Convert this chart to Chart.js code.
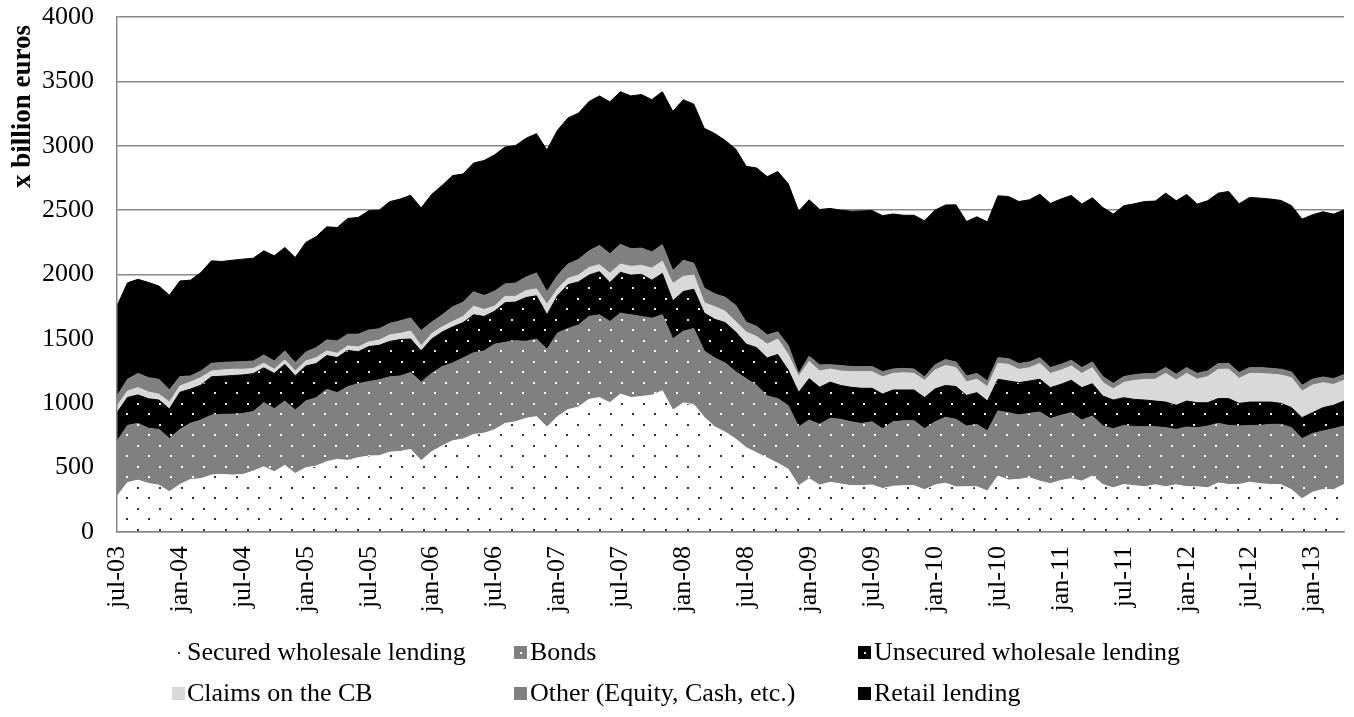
<!DOCTYPE html>
<html>
<head>
<meta charset="utf-8">
<script src="https://cdn.jsdelivr.net/npm/chart.js@4.4.1/dist/chart.umd.min.js"></script>
<style>
  html, body { margin: 0; padding: 0; background: #fff; }
  #wrap { position: relative; width: 1354px; height: 717px; }
  #legend .item {
    position: absolute;
    font: 26px 'Liberation Serif', 'Times New Roman', serif;
    color: #000;
    line-height: 30px;
    height: 30px;
    white-space: nowrap;
  }
  #legend .item canvas { position: absolute; left: 0; top: 9px; }
</style>
</head>
<body>
<div id="wrap">
  <canvas id="chart" width="1354" height="717"></canvas>
  <div id="legend"></div>
</div>
<script>
// monthly categories, jul-03 .. apr-13
const monthNames = ['jan', 'feb', 'mar', 'apr', 'may', 'jun', 'jul', 'aug', 'sep', 'oct', 'nov', 'dec'];
const months = [];
for (let k = 0; k < 118; k++) {
  const m = (6 + k) % 12;
  const y = 3 + Math.floor((6 + k) / 12);
  months.push(monthNames[m] + '-' + String(y).padStart(2, '0'));
}

// x billion euros
const secured = [
  278, 383, 403, 377, 364, 313, 369, 408, 414, 442,
  447, 442, 447, 473, 507, 468, 517, 455, 499, 512,
  546, 564, 556, 577, 590, 592, 620, 625, 642, 553,
  623, 668, 708, 722, 757, 767, 795, 843, 856, 883,
  896, 816, 896, 950, 971, 1030, 1044, 1004, 1071, 1044,
  1052, 1062, 1097, 945, 1003, 990, 891, 816, 775, 722,
  655, 615, 575, 534, 488, 360, 414, 365, 386, 373,
  360, 360, 365, 337, 355, 360, 360, 328, 365, 379,
  350, 351, 351, 318, 434, 403, 408, 421, 395, 375,
  400, 414, 395, 434, 369, 343, 369, 360, 351, 367,
  351, 367, 351, 351, 343, 380, 369, 369, 387, 375,
  369, 367, 328, 258, 309, 330, 328, 369
];
const bonds = [
  428, 445, 441, 428, 433, 414, 428, 436, 455, 466,
  467, 473, 474, 462, 498, 490, 500, 492, 518, 531,
  562, 518, 573, 575, 578, 590, 585, 587, 597, 611,
  609, 617, 604, 630, 635, 639, 664, 630, 630, 598,
  603, 603, 649, 630, 636, 644, 643, 630, 629, 643,
  622, 598, 591, 554, 557, 590, 515, 536, 537, 523,
  536, 523, 482, 502, 494, 456, 455, 472, 497, 502,
  496, 483, 491, 465, 501, 504, 504, 474, 491, 512,
  525, 472, 485, 466, 506, 524, 501, 501, 537, 506,
  506, 513, 474, 467, 454, 459, 459, 458, 467, 451,
  459, 430, 464, 459, 480, 464, 459, 454, 441, 453,
  467, 469, 482, 467, 457, 454, 474, 454
];
const unsecured = [
  221, 217, 221, 230, 228, 228, 288, 266, 271, 297,
  296, 300, 299, 295, 270, 274, 285, 265, 272, 265,
  262, 273, 281, 248, 272, 268, 275, 283, 260, 242,
  267, 268, 281, 274, 295, 268, 255, 308, 300, 340,
  335, 268, 289, 341, 335, 321, 335, 303, 317, 308,
  327, 296, 320, 296, 308, 305, 294, 300, 314, 308,
  268, 294, 295, 343, 276, 268, 322, 287, 281, 263,
  268, 273, 260, 269, 247, 239, 239, 242, 255, 247,
  255, 238, 246, 233, 246, 246, 251, 251, 254, 240,
  241, 251, 252, 251, 233, 223, 215, 212, 207, 199,
  199, 187, 202, 194, 181, 192, 208, 176, 181, 181,
  173, 163, 156, 163, 161, 182, 182, 194
];
const claimsCB = [
  53, 50, 56, 52, 44, 55, 49, 55, 59, 45,
  48, 49, 44, 39, 35, 32, 34, 38, 39, 46,
  36, 33, 35, 37, 36, 40, 51, 48, 62, 40,
  41, 40, 41, 48, 67, 54, 40, 49, 44, 54,
  54, 81, 54, 48, 53, 59, 54, 72, 65, 68,
  70, 93, 95, 135, 117, 110, 81, 97, 88, 81,
  94, 86, 107, 120, 121, 124, 134, 126, 102, 112,
  121, 129, 129, 134, 129, 134, 129, 134, 147, 155,
  147, 106, 105, 111, 123, 129, 103, 103, 123, 111,
  110, 111, 111, 124, 106, 85, 119, 147, 160, 170,
  223, 196, 215, 183, 202, 227, 229, 194, 223, 223,
  217, 220, 232, 206, 214, 193, 162, 161
];
const other = [
  76, 91, 111, 112, 117, 93, 73, 47, 51, 60,
  58, 57, 59, 59, 65, 64, 70, 66, 70, 78,
  86, 96, 91, 99, 93, 88, 89, 97, 102, 118,
  90, 93, 115, 110, 112, 109, 116, 97, 103, 105,
  124, 98, 104, 112, 122, 129, 150, 152, 152, 137,
  134, 126, 129, 100, 125, 93, 113, 101, 109, 126,
  77, 79, 72, 56, 71, 22, 41, 48, 34, 43,
  40, 40, 40, 40, 34, 34, 34, 27, 41, 46,
  43, 45, 45, 45, 45, 45, 45, 45, 45, 45,
  45, 45, 45, 45, 45, 45, 45, 45, 45, 45,
  45, 45, 45, 45, 45, 45, 45, 45, 45, 45,
  45, 45, 45, 45, 45, 45, 45, 45
];
const retail = [
  700, 749, 731, 739, 725, 736, 743, 744, 765, 796,
  785, 790, 796, 799, 809, 817, 804, 816, 851, 863,
  878, 881, 899, 907, 926, 922, 946, 946, 952, 953,
  992, 1006, 1019, 997, 1000, 1048, 1059, 1063, 1068, 1078,
  1082, 1101, 1128, 1135, 1136, 1160, 1161, 1180, 1186, 1187,
  1193, 1183, 1188, 1237, 1248, 1235, 1241, 1245, 1218, 1214,
  1210, 1230, 1229, 1245, 1256, 1262, 1214, 1207, 1213, 1207,
  1207, 1209, 1212, 1212, 1204, 1189, 1194, 1212, 1201, 1201,
  1221, 1200, 1216, 1236, 1257, 1259, 1259, 1259, 1270, 1275,
  1284, 1280, 1270, 1275, 1314, 1314, 1327, 1327, 1337, 1338,
  1355, 1348, 1345, 1315, 1322, 1324, 1335, 1311, 1322, 1316,
  1315, 1311, 1291, 1291, 1278, 1283, 1278, 1278
];

const seriesNames = [
  'Secured wholesale lending', 'Bonds', 'Unsecured wholesale lending',
  'Claims on the CB', 'Other (Equity, Cash, etc.)', 'Retail lending'
];

const FONT = "'Liberation Serif', 'Times New Roman', serif";
const GRID = '#878787';
const NONE = 'rgba(0,0,0,0)';

const canvas = document.getElementById('chart');
const ctx = canvas.getContext('2d');

/**
 * Dotted fill like the Excel pattern: staggered rows of small dots.
 */
function dotPattern(bg, dot) {
  const tile = document.createElement('canvas');
  tile.width = 22;
  tile.height = 21;
  const g = tile.getContext('2d');
  g.fillStyle = bg;
  g.fillRect(0, 0, 22, 21);
  g.fillStyle = dot;
  g.fillRect(5, 4, 2, 2);
  g.fillRect(16, 14, 2, 2);
  return ctx.createPattern(tile, 'repeat');
}

const styles = [
  { base: '#ffffff', dot: '#333333' },
  { base: '#808080', dot: '#ffffff' },
  { base: '#000000', dot: '#e6e6e6' },
  { base: '#d9d9d9' },
  { base: '#808080' },
  { base: '#000000' }
];
const values = [secured, bonds, unsecured, claimsCB, other, retail];

const datasets = values.map((data, i) => {
  const s = styles[i];
  return {
    label: seriesNames[i],
    data: data,
    backgroundColor: s.dot ? dotPattern(s.base, s.dot) : s.base,
    borderColor: s.base,
    borderWidth: 1,
    pointRadius: 0,
    tension: 0,
    fill: i === 0 ? 'origin' : '-1'
  };
});

const yTitle = {
  id: 'yTitle',
  afterDraw(chart) {
    const c = chart.ctx;
    c.save();
    c.translate(23, 25);
    c.rotate(-Math.PI / 2);
    c.font = 'bold 27px ' + FONT;
    c.textAlign = 'right';
    c.textBaseline = 'middle';
    c.fillStyle = '#000';
    c.fillText('x billion euros', 0, 0);
    c.restore();
  }
};

new Chart(ctx, {
  type: 'line',
  data: { labels: months, datasets: datasets },
  options: {
    responsive: false,
    animation: false,
    devicePixelRatio: 1,
    layout: { padding: { left: 0, right: 10, top: 17, bottom: 0 } },
    plugins: {
      legend: { display: false },
      tooltip: { enabled: false }
    },
    scales: {
      x: {
        grid: { display: false, drawTicks: true, tickLength: 14, tickColor: NONE },
        border: { display: true, color: GRID, width: 1.5, z: 1 },
        ticks: {
          autoSkip: false,
          minRotation: 90,
          maxRotation: 90,
          padding: 0,
          color: '#000',
          font: { family: FONT, size: 26, lineHeight: 0.35 },
          callback(value, index) {
            return index % 6 === 0 ? this.getLabelForValue(value) : '';
          }
        },
        afterFit(scale) { scale.height = 185; }
      },
      y: {
        stacked: true,
        min: 0,
        max: 4000,
        grid: { color: GRID, lineWidth: 1.5, drawTicks: true, tickLength: 23, tickColor: NONE },
        border: { display: true, color: GRID, width: 1.5, z: 1 },
        ticks: {
          stepSize: 500,
          padding: 0,
          color: '#000',
          font: { family: FONT, size: 26 },
          callback: value => String(value)
        },
        afterFit(scale) { scale.width = 117; }
      }
    }
  },
  plugins: [yTitle]
});

// legend, equal column pitch as in the original
const legendPos = [
  { x: 172, tx: 187, y: 652 }, { x: 514, tx: 530, y: 652 }, { x: 858, tx: 874, y: 652 },
  { x: 172, tx: 187, y: 693 }, { x: 514, tx: 530, y: 693 }, { x: 858, tx: 874, y: 693 }
];
const legend = document.getElementById('legend');
seriesNames.forEach((name, si) => {
  const p = legendPos[si];
  const item = document.createElement('div');
  item.className = 'item';
  item.style.left = p.x + 'px';
  item.style.top = (p.y - 15) + 'px';
  const sw = document.createElement('canvas');
  sw.width = 13;
  sw.height = 13;
  const g = sw.getContext('2d');
  g.fillStyle = styles[si].base;
  g.fillRect(0, 0, 13, 13);
  if (styles[si].dot) {
    g.fillStyle = styles[si].dot;
    g.fillRect(6, 6, 2, 2);
  }
  item.appendChild(sw);
  const txt = document.createElement('span');
  txt.style.marginLeft = (p.tx - p.x) + 'px';
  txt.textContent = name;
  item.appendChild(txt);
  legend.appendChild(item);
});
</script>
</body>
</html>
